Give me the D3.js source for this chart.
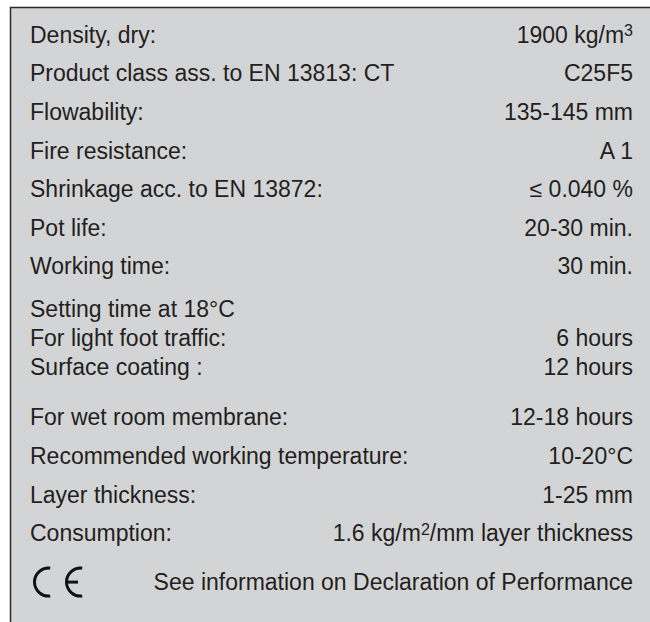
<!DOCTYPE html>
<html>
<head>
<meta charset="utf-8">
<script src="https://cdn.jsdelivr.net/npm/d3@7"></script>
<style>
    body { margin: 0; background: #fff; }
    text { font-family: "Liberation Sans", Arial, Helvetica, sans-serif; fill: #231f20; }
</style>
</head>
<body>
<div id="chart"></div>
<script>
// table content
const labels = [
    "Density, dry:",
    "Product class ass. to EN 13813: CT",
    "Flowability:",
    "Fire resistance:",
    "Shrinkage acc. to EN 13872:",
    "Pot life:",
    "Working time:",
    "Setting time at 18°C",
    "For light foot traffic:",
    "Surface coating :",
    "For wet room membrane:",
    "Recommended working temperature:",
    "Layer thickness:",
    "Consumption:"
];
const values = [
    "1900 kg/m^3",
    "C25F5",
    "135-145 mm",
    "A 1",
    "≤ 0.040 %",
    "20-30 min.",
    "30 min.",
    "",
    "6 hours",
    "12 hours",
    "12-18 hours",
    "10-20°C",
    "1-25 mm",
    "1.6 kg/m^2/mm layer thickness"
];
const settingHeader = "Setting time at 18°C";
const settingRows = ["For light foot traffic:", "Surface coating :"];
const footnote = "See information on Declaration of Performance";

const width = 650, height = 622;
const fontSize = 23;

const svg = d3.select("#chart").append("svg")
    .attr("width", width)
    .attr("height", height);

// grey panel, only left and top edges fall inside the picture
svg.append("rect")
    .attr("x", 10.5)
    .attr("y", 7.5)
    .attr("width", width)
    .attr("height", height)
    .style("fill", "#d3d4d6")
    .style("stroke", "#2b2b2b")
    .style("stroke-width", 1.5);

// row baselines
let y = 42.7;
const ys = [];
labels.forEach((l, i) => {
    if (i > 0) {
        const prev = labels[i - 1];
        if (l === settingHeader) y += 43;
        else if (settingRows.includes(l)) y += 29;
        else if (settingRows.includes(prev)) y += 50;
        else y += 38.6;
    }
    ys.push(y);
});
const footY = y + 49;

const rows = svg.append("g").attr("class", "rows");

rows.selectAll(".row-label")
    .data(labels)
    .enter()
    .append("text")
    .attr("class", "row-label")
    .attr("x", 30)
    .attr("y", (d, i) => ys[i])
    .style("font-size", fontSize + "px")
    .text(d => d);

const valueRows = values.map((v, i) => ({v: v, y: ys[i]})).filter(d => d.v !== "");

const valueText = rows.selectAll(".row-value")
    .data(valueRows)
    .enter()
    .append("text")
    .attr("class", "row-value")
    .attr("x", 633)
    .attr("y", d => d.y)
    .style("font-size", fontSize + "px")
    .style("text-anchor", "end");

// values may hold a superscript marked with ^
valueText.each(function (d) {
    const t = d3.select(this);
    const parts = d.v.split(/\^(\d)/);
    let back = 0;
    parts.forEach((p, k) => {
        if (p === "") return;
        if (k % 2 === 1) {
            t.append("tspan")
                .attr("dy", -6.5)
                .style("font-size", "16px")
                .text(p);
            back = 6.5;
        } else {
            t.append("tspan").attr("dy", back).text(p);
            back = 0;
        }
    });
});

// CE mark
const ce = svg.append("g").attr("class", "ce-mark")
    .style("fill", "none")
    .style("stroke", "#111")
    .style("stroke-width", 3);

const cPath = d3.path();
cPath.arc(48.5, footY - 8, 14, -Math.PI / 2 + 0.12, Math.PI / 2 - 0.12, true);
ce.append("path").attr("d", cPath.toString());

const ePath = d3.path();
ePath.arc(80.5, footY - 8, 14, -Math.PI / 2 + 0.12, Math.PI / 2 - 0.12, true);
ce.append("path").attr("d", ePath.toString());
ce.append("line")
    .attr("x1", 67)
    .attr("x2", 78)
    .attr("y1", footY - 8)
    .attr("y2", footY - 8);

svg.append("text")
    .attr("x", 633)
    .attr("y", footY)
    .style("font-size", fontSize + "px")
    .style("text-anchor", "end")
    .text(footnote);
</script>
</body>
</html>
